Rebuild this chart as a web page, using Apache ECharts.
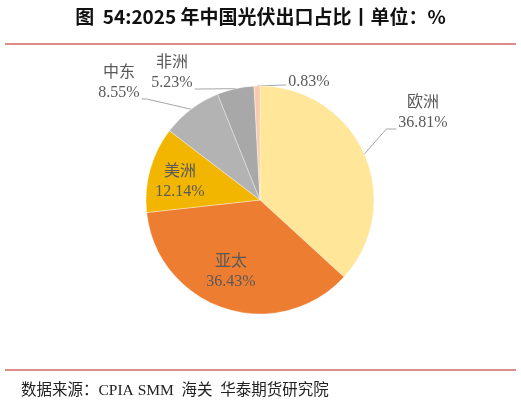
<!DOCTYPE html>
<html>
<head>
<meta charset="utf-8">
<script src="https://cdn.jsdelivr.net/npm/echarts@6/dist/echarts.min.js"></script>
<style>
html,body{margin:0;padding:0;background:#fff;}
#chart{width:521px;height:400px;}
</style>
</head>
<body>
<div id="chart"></div>
<script>
// Data
var regions = ['欧洲', '亚太', '美洲', '中东', '非洲', '其他'];
var shares = [36.81, 36.43, 12.14, 8.55, 5.23, 0.83];
var showRegionName = [true, true, true, true, true, false];
var sliceColors = ['#FFE699', '#ED7D31', '#F2B600', '#B3B3B3', '#A8A8A8', '#F8CBAD'];

// Label placement (styling only)
var labelPos = [
  {x: 423, y: 113, side: 'right', kink: 10},
  {x: 231, y: 272, side: 'inside'},
  {x: 180, y: 182, side: 'inside'},
  {x: 119, y: 83, side: 'left', kink: 5},
  {x: 172, y: 73, side: 'left', kink: 4},
  {x: 309, y: 82, side: 'right', kink: 3}
];

var chart = echarts.init(document.getElementById('chart'));
var textColor = '#595959';
var serif = "'Liberation Serif', 'Noto Sans CJK SC', serif";

var pieData = regions.map(function (r, i) {
  var item = {
    name: r,
    value: shares[i],
    itemStyle: {color: sliceColors[i]}
  };
  if (labelPos[i].side === 'inside') {
    item.label = {position: 'inside'};
    item.labelLine = {show: false};
  }
  return item;
});

var option = {
  backgroundColor: '#fff',
  animation: false,
  title: [{
    text: '图  54:2025 年中国光伏出口占比丨单位：%',
    left: 'center',
    top: 2,
    textStyle: {fontFamily: "'Noto Sans CJK SC', sans-serif", fontWeight: 'bold', fontSize: 19, color: '#111'}
  }, {
    text: '数据来源：CPIA SMM  海关  华泰期货研究院',
    left: 16,
    top: 378,
    textStyle: {fontFamily: serif, fontWeight: 'normal', fontSize: 15.5, color: '#222'}
  }],
  graphic: [
    {type: 'line', shape: {x1: 5, y1: 44, x2: 516, y2: 44}, style: {stroke: '#D06664', lineWidth: 1.5}},
    {type: 'line', shape: {x1: 5, y1: 370, x2: 516, y2: 370}, style: {stroke: '#D06664', lineWidth: 1.5}}
  ],
  series: [{
    type: 'pie',
    center: [260, 200],
    radius: [0, 114],
    startAngle: 90,
    clockwise: true,
    avoidLabelOverlap: false,
    data: pieData,
    itemStyle: {borderColor: 'rgba(255,255,255,0.6)', borderWidth: 0.6},
    label: {
      show: true,
      position: 'outside',
      fontFamily: serif,
      fontSize: 16,
      lineHeight: 20,
      color: textColor,
      align: 'center',
      formatter: function (p) {
        var v = p.value.toFixed(2) + '%';
        return showRegionName[p.dataIndex] ? p.name + '\n' + v : v;
      }
    },
    labelLine: {show: true, lineStyle: {color: '#A6A6A6', width: 1}},
    labelLayout: function (params) {
      var pos = labelPos[params.dataIndex];
      var res = {x: pos.x, y: pos.y, align: 'center', verticalAlign: 'middle'};
      if (pos.side !== 'inside' && params.labelLinePoints) {
        var w = params.labelRect.width, h = params.labelRect.height;
        var start = params.labelLinePoints[0];
        var endY = pos.y + h / 2 - (h > 25 ? 4 : 7);
        var endX, bendX;
        if (pos.side === 'right') {
          endX = pos.x - w / 2 - 2;
          bendX = endX - pos.kink;
        } else {
          endX = pos.x + w / 2 + 2;
          bendX = endX + pos.kink;
        }
        res.labelLinePoints = [[start[0], start[1]], [bendX, endY], [endX, endY]];
      }
      return res;
    }
  }]
};
chart.setOption(option);
</script>
</body>
</html>
